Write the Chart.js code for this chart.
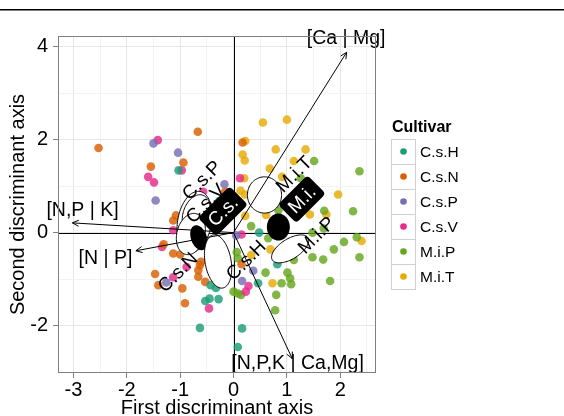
<!DOCTYPE html>
<html>
<head>
<meta charset="utf-8">
<script src="https://cdn.jsdelivr.net/npm/chart.js@4.4.1/dist/chart.umd.min.js"></script>
<style>
  html, body { margin: 0; padding: 0; background: #fff; }
</style>
</head>
<body>
<canvas id="ldaChart" width="564" height="416"></canvas>
<script>
// cultivars and their Dark2 colours
const cultivars = ['C.s.H', 'C.s.N', 'C.s.P', 'C.s.V', 'M.i.P', 'M.i.T'];
const cultivarColors = ['#1b9e77', '#d95f02', '#7570b3', '#e7298a', '#66a61e', '#e6ab02'];

// sample scores on the two discriminant axes, [first, second]
const csH = [[-1.03,1.34],[-0.07,0.78],[-0.27,0.68],[0.48,0.00],[0.82,-0.68],[0.46,-1.09],[-0.43,-1.13],[-0.33,-1.19],
  [-0.53,-1.47],[-0.45,-1.42],[-0.28,-1.43],[-0.63,-2.05],[0.16,-2.06],[0.08,-2.46]];
const csN = [[-2.53,1.82],[-0.67,2.17],[-0.94,1.51],[-1.55,1.42],[-0.16,0.88],[-1.08,0.37],[-1.13,0.26],[0.17,1.94],
  [-1.31,-0.25],[-1.00,-0.47],[-1.13,-0.45],[-1.47,-0.89],[-1.41,-1.13],[-0.96,-1.20],[-0.63,-0.70],[-0.66,-0.81],
  [-0.61,-0.63],[-0.53,-1.06],[-0.66,-0.95],[-0.91,-1.52],[0.15,-0.68]];
const csP = [[-1.50,1.92],[-1.04,1.72],[-1.46,0.69],[-0.17,1.04],[0.05,-0.06],[-1.26,-1.07],[0.37,-0.82],[0.16,-1.04]];
const csV = [[-1.42,1.99],[-0.97,1.34],[-1.60,1.20],[-1.49,1.08],[-0.57,0.88],[0.12,1.17],[0.15,-0.04],[-1.13,0.05],
  [-1.34,-0.31],[-1.13,-0.96],[-0.88,-0.74],[-0.46,-1.63],[0.28,-1.15],[0.23,-1.27]];
const miP = [[1.51,1.54],[2.36,1.32],[1.26,1.17],[0.84,0.48],[1.70,0.47],[2.24,0.46],[0.33,0.14],[2.31,-0.10],
  [2.07,-0.20],[1.88,-0.36],[2.36,-0.53],[1.68,-0.58],[1.48,-0.53],[1.81,-1.04],[0.60,-0.86],[1.01,-0.86],
  [1.06,-0.98],[1.08,-1.11],[0.90,-1.09],[0.80,-1.34],[0.78,-1.67],[0.06,-0.42],[0.08,-0.55],[0.00,-1.27],
  [0.08,-1.31],[0.14,-1.34],[0.65,-0.12],[1.13,-0.59],[1.09,-0.52],[1.48,0.00],[1.69,0.09]];
const miT = [[0.55,2.37],[1.00,2.43],[0.22,1.97],[0.79,1.79],[1.35,1.79],[0.17,1.68],[0.21,1.55],[1.13,1.54],
  [0.68,1.38],[0.91,1.20],[0.20,1.17],[0.13,0.90],[0.21,0.82],[1.96,0.82],[0.61,0.38],[1.43,0.39],
  [1.74,0.39],[0.22,0.36],[2.40,-0.18],[0.69,-0.36],[0.33,-0.48],[0.73,-1.09]];
const cultivarScores = [csH, csN, csP, csV, miP, miT];

// confidence ellipses of group means: centre and two semi-axis vectors (data units)
const ellipseGroups = ['C.s.P', 'C.s.V', 'C.s.N', 'C.s.', 'C.s.H', 'M.i.T', 'M.i.P', 'M.i.'];
const ellipseCenter = [[-0.73,0.23],[-0.70,0.40],[-0.80,-0.03],[-0.65,-0.11],[-0.29,-0.62],[0.58,0.81],[1.06,-0.35],[0.84,0.12]];
const ellipseAxisA = [[0.101,0.656],[0.127,0.404],[0.101,0.437],[-0.082,0.262],[-0.088,0.572],[0,0.39],[0.333,0.239],[0,0.29]];
const ellipseAxisB = [[0.313,-0.063],[0.228,-0.095],[0.253,-0.077],[0.140,0.058],[0.240,0.049],[0.32,0],[0.099,-0.183],[0.215,0]];
const ellipseLabelPos = [[-0.60,1.13],[-0.53,0.63],[-0.20,0.46],[-1.05,-0.85],[0.23,-0.59],[1.13,1.26],[1.55,-0.05],[1.28,0.72]];
const ellipseLabelText = ['C.s.P', 'C.s.V', 'C.s.', 'C.s.N', 'C.s.H', 'M.i.T', 'M.i.P', 'M.i.'];
const speciesGroups = ['C.s.', 'M.i.'];

// nutrient balance loadings (arrows from the origin)
const loadingNames = ['[Ca | Mg]', '[N,P | K]', '[N | P]', '[N,P,K | Ca,Mg]'];
const loadingTips = [[2.12,3.88],[-3.02,0.21],[-1.83,-0.39],[1.10,-2.71]];
const loadingLabelPos = [[2.11,4.17],[-2.83,0.48],[-2.40,-0.555],[1.20,-2.81]];

// axis breaks
const xMajorTicks = [-3, -2, -1, 0, 1, 2];
const xMinorTicks = [-2.5, -1.5, -0.5, 0.5, 1.5, 2.5];
const yMajorTicks = [-2, 0, 2, 4];
const yMinorTicks = [-3, -1, 1, 3];

const FONT = "'Liberation Sans', Arial, Helvetica, sans-serif";
Chart.defaults.font.family = FONT;
Chart.defaults.color = '#000';

function withAlpha(hex, a) {
  const n = parseInt(hex.slice(1), 16);
  return `rgba(${n >> 16},${(n >> 8) & 255},${n & 255},${a})`;
}

const datasets = cultivars.map((name, i) => ({
  label: name,
  data: cultivarScores[i].map(p => ({ x: p[0], y: p[1] })),
  backgroundColor: withAlpha(cultivarColors[i], 0.82),
  borderWidth: 0,
  pointRadius: 4.3,
  pointHoverRadius: 4.3
}));

function ellipsePath(ctx, sx, sy, i) {
  const c = ellipseCenter[i], a = ellipseAxisA[i], b = ellipseAxisB[i];
  ctx.beginPath();
  for (let k = 0; k <= 90; k++) {
    const t = k / 90 * Math.PI * 2;
    const px = sx.getPixelForValue(c[0] + a[0] * Math.cos(t) + b[0] * Math.sin(t));
    const py = sy.getPixelForValue(c[1] + a[1] * Math.cos(t) + b[1] * Math.sin(t));
    if (k === 0) ctx.moveTo(px, py); else ctx.lineTo(px, py);
  }
  ctx.closePath();
}

const decorPlugin = {
  id: 'decor',
  beforeDatasetsDraw(chart) {
    const { ctx, chartArea: a, scales: { x, y } } = chart;
    const x0 = Math.round(x.getPixelForValue(0)) + 0.5;
    const y0 = Math.round(y.getPixelForValue(0)) + 0.5;
    ctx.save();
    ctx.strokeStyle = '#000';
    ctx.lineWidth = 1;
    ctx.beginPath();
    ctx.moveTo(x0, a.top); ctx.lineTo(x0, a.bottom);
    ctx.moveTo(a.left, y0); ctx.lineTo(a.right, y0);
    ctx.stroke();
    ctx.restore();
  },
  afterDatasetsDraw(chart) {
    const { ctx, scales: { x, y } } = chart;
    ctx.save();
    // ellipses
    ellipseGroups.forEach((g, i) => {
      ellipsePath(ctx, x, y, i);
      if (speciesGroups.includes(g)) {
        ctx.fillStyle = '#000';
        ctx.fill();
      } else {
        ctx.fillStyle = '#fff';
        ctx.fill();
        ctx.strokeStyle = '#000';
        ctx.lineWidth = 1;
        ctx.stroke();
      }
    });
    // loading arrows
    ctx.strokeStyle = '#000';
    ctx.lineWidth = 1;
    const ox = x.getPixelForValue(0), oy = y.getPixelForValue(0);
    loadingTips.forEach(t => {
      const tx = x.getPixelForValue(t[0]), ty = y.getPixelForValue(t[1]);
      const ang = Math.atan2(ty - oy, tx - ox);
      ctx.beginPath();
      ctx.moveTo(ox, oy); ctx.lineTo(tx, ty);
      ctx.moveTo(tx - 7 * Math.cos(ang - 0.45), ty - 7 * Math.sin(ang - 0.45));
      ctx.lineTo(tx, ty);
      ctx.lineTo(tx - 7 * Math.cos(ang + 0.45), ty - 7 * Math.sin(ang + 0.45));
      ctx.stroke();
    });
    ctx.fillStyle = '#000';
    ctx.font = `19.5px ${FONT}`;
    ctx.textAlign = 'center';
    ctx.textBaseline = 'middle';
    loadingNames.forEach((n, i) => {
      ctx.fillText(n, x.getPixelForValue(loadingLabelPos[i][0]), y.getPixelForValue(loadingLabelPos[i][1]));
    });
    // group labels, rotated
    ctx.font = `19px ${FONT}`;
    ellipseLabelText.forEach((txt, i) => {
      const px = x.getPixelForValue(ellipseLabelPos[i][0]);
      const py = y.getPixelForValue(ellipseLabelPos[i][1]);
      ctx.save();
      ctx.translate(px, py);
      ctx.rotate(-Math.PI / 4);
      if (speciesGroups.includes(txt)) {
        const w = ctx.measureText(txt).width + 11, h = 26;
        ctx.fillStyle = '#000';
        ctx.beginPath();
        ctx.roundRect(-w / 2, -h / 2, w, h, 4);
        ctx.fill();
        ctx.fillStyle = '#fff';
      } else {
        ctx.fillStyle = '#000';
      }
      ctx.fillText(txt, 0, 1);
      ctx.restore();
    });
    ctx.restore();
  },
  afterDraw(chart) {
    const { ctx, chartArea: a } = chart;
    ctx.save();
    // panel border
    ctx.strokeStyle = '#808080';
    ctx.lineWidth = 1;
    ctx.strokeRect(Math.round(a.left) + 0.5, Math.round(a.top) + 0.5,
      Math.round(a.right - a.left) - 1, Math.round(a.bottom - a.top) - 1);
    // rule across the top of the figure
    ctx.fillStyle = '#000';
    ctx.fillRect(0, 9, chart.width, 1.5);
    // legend
    const lx = a.right + 15, top = a.top + 103, rowH = 25;
    ctx.textAlign = 'left';
    ctx.textBaseline = 'middle';
    ctx.font = `bold 16px ${FONT}`;
    ctx.fillText('Cultivar', lx + 1, top - 11);
    ctx.font = `15.5px ${FONT}`;
    chart.data.datasets.forEach((ds, i) => {
      const by = top + i * rowH;
      ctx.fillStyle = '#fff';
      ctx.fillRect(lx, by, 25, rowH);
      ctx.strokeStyle = '#d0d0d0';
      ctx.strokeRect(lx + 0.5, by + 0.5, 24, rowH);
      ctx.fillStyle = cultivarColors[i];
      ctx.beginPath();
      ctx.arc(lx + 12.5, by + rowH / 2, 3.3, 0, Math.PI * 2);
      ctx.fill();
      ctx.fillStyle = '#000';
      ctx.fillText(ds.label, lx + 29, by + rowH / 2 + 1);
    });
    ctx.restore();
  }
};

function majorOnly(list) {
  return c => (c.tick && list.includes(c.tick.value));
}

new Chart(document.getElementById('ldaChart'), {
  type: 'scatter',
  data: { datasets },
  plugins: [decorPlugin],
  options: {
    responsive: false,
    animation: false,
    layout: { padding: { top: 36, right: 188, bottom: 0, left: 0 } },
    plugins: {
      legend: { display: false },
      tooltip: { enabled: false }
    },
    scales: {
      x: {
        type: 'linear',
        min: -3.29,
        max: 2.67,
        afterBuildTicks: ax => { ax.ticks = [...xMajorTicks, ...xMinorTicks].sort((p, q) => p - q).map(v => ({ value: v })); },
        afterFit: s => { s.height = 43; },
        ticks: {
          autoSkip: false,
          maxRotation: 0,
          padding: 0,
          color: '#000',
          font: { size: 20 },
          callback: v => xMajorTicks.includes(v) ? String(v) : ''
        },
        grid: {
          color: c => majorOnly(xMajorTicks)(c) ? '#e6e6e6' : '#f3f3f3',
          tickColor: c => majorOnly(xMajorTicks)(c) ? '#808080' : 'rgba(0,0,0,0)',
          tickLength: 5,
          lineWidth: 1
        },
        border: { display: false },
        title: {
          display: true,
          text: 'First discriminant axis',
          color: '#000',
          font: { size: 20 },
          padding: { top: 0, bottom: -4 }
        }
      },
      y: {
        type: 'linear',
        min: -3.02,
        max: 4.23,
        afterBuildTicks: ax => { ax.ticks = [...yMajorTicks, ...yMinorTicks].sort((p, q) => p - q).map(v => ({ value: v })); },
        afterFit: s => { s.width = 58; },
        ticks: {
          autoSkip: false,
          padding: 5,
          color: '#000',
          font: { size: 20 },
          callback: v => yMajorTicks.includes(v) ? String(v) : ''
        },
        grid: {
          color: c => majorOnly(yMajorTicks)(c) ? '#e6e6e6' : '#f3f3f3',
          tickColor: c => majorOnly(yMajorTicks)(c) ? '#808080' : 'rgba(0,0,0,0)',
          tickLength: 5,
          lineWidth: 1
        },
        border: { display: false },
        title: {
          display: true,
          text: 'Second discriminant axis',
          color: '#000',
          font: { size: 20 },
          padding: { top: 6, bottom: 0 }
        }
      }
    }
  }
});
</script>
</body>
</html>
